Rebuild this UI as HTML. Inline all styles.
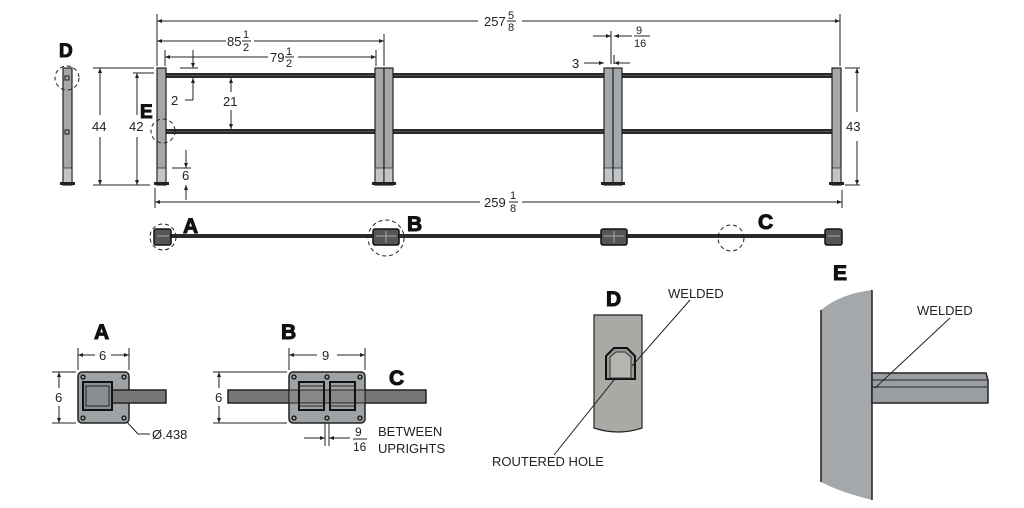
<!DOCTYPE html>
<html><head><meta charset="utf-8"><style>
html,body{margin:0;padding:0;background:#fff;width:1024px;height:508px;overflow:hidden}
svg{display:block}
text{font-family:"Liberation Sans",sans-serif;fill:#222}
.b{font-weight:bold;fill:#111;stroke:#111;stroke-width:1}
</style></head><body>
<svg width="1024" height="508" viewBox="0 0 1024 508" xmlns="http://www.w3.org/2000/svg">
<defs>
<marker id="ar" viewBox="0 0 10 10" refX="10" refY="5" markerWidth="7" markerHeight="5" orient="auto-start-reverse"><path d="M0,1 L10,5 L0,9 z" fill="#222"/></marker>
<g id="post">
<rect x="0" y="0" width="9" height="117" fill="#a4a8ab" stroke="#222" stroke-width="1.2"/>
<rect x="0.6" y="100" width="7.8" height="16" fill="#c2c5c7"/>
<line x1="0" y1="100" x2="9" y2="100" stroke="#333" stroke-width="0.8"/>
<rect x="-3" y="114" width="15" height="3" fill="#222"/>
</g>
</defs>
<g stroke="#222" stroke-width="1" fill="none">
<line x1="157" y1="14" x2="157" y2="66"/>
<line x1="840" y1="14" x2="840" y2="66"/>
<line x1="384" y1="34" x2="384" y2="66"/>
<line x1="165" y1="50" x2="165" y2="66"/>
<line x1="376" y1="50" x2="376" y2="66"/>
<line x1="155" y1="188" x2="155" y2="208"/>
<line x1="842" y1="190" x2="842" y2="208"/>
<line x1="157" y1="21" x2="478" y2="21" marker-start="url(#ar)"/>
<line x1="522" y1="21" x2="840" y2="21" marker-end="url(#ar)"/>
<line x1="157" y1="41" x2="226" y2="41" marker-start="url(#ar)"/>
<line x1="254" y1="41" x2="384" y2="41" marker-end="url(#ar)"/>
<line x1="165" y1="57" x2="268" y2="57" marker-start="url(#ar)"/>
<line x1="298" y1="57" x2="376" y2="57" marker-end="url(#ar)"/>
<line x1="155" y1="202" x2="480" y2="202" marker-start="url(#ar)"/>
<line x1="522" y1="202" x2="842" y2="202" marker-end="url(#ar)"/>
<line x1="180" y1="68" x2="198" y2="68"/>
<line x1="193" y1="50" x2="193" y2="68" marker-end="url(#ar)"/>
<line x1="193" y1="78" x2="193" y2="100" marker-start="url(#ar)"/>
<line x1="193" y1="100" x2="185" y2="100"/>
<line x1="231" y1="78" x2="231" y2="92" marker-start="url(#ar)"/>
<line x1="231" y1="110" x2="231" y2="129" marker-end="url(#ar)"/>
<line x1="172" y1="168" x2="191" y2="168"/>
<line x1="186" y1="150" x2="186" y2="168" marker-end="url(#ar)"/>
<line x1="186" y1="185" x2="186" y2="200" marker-start="url(#ar)"/>
<line x1="93" y1="68" x2="154" y2="68"/>
<line x1="93" y1="185" x2="150" y2="185"/>
<line x1="100" y1="68" x2="100" y2="115" marker-start="url(#ar)"/>
<line x1="100" y1="137" x2="100" y2="185" marker-end="url(#ar)"/>
<line x1="133" y1="73" x2="154" y2="73"/>
<line x1="137" y1="73" x2="137" y2="115" marker-start="url(#ar)"/>
<line x1="137" y1="137" x2="137" y2="185" marker-end="url(#ar)"/>
<line x1="845" y1="68" x2="860" y2="68"/>
<line x1="845" y1="185" x2="860" y2="185"/>
<line x1="857" y1="68" x2="857" y2="112" marker-start="url(#ar)"/>
<line x1="857" y1="141" x2="857" y2="185" marker-end="url(#ar)"/>
<line x1="611" y1="31" x2="611" y2="64"/>
<line x1="614" y1="55" x2="614" y2="64"/>
<line x1="593" y1="36" x2="611" y2="36" marker-end="url(#ar)"/>
<line x1="632" y1="36" x2="614" y2="36" marker-end="url(#ar)"/>
<line x1="584" y1="63" x2="604" y2="63" marker-end="url(#ar)"/>
<line x1="630" y1="63" x2="614" y2="63" marker-end="url(#ar)"/>
</g>
<g fill="#2a2a2a">
<rect x="166" y="73" width="209" height="5"/><rect x="166" y="129" width="209" height="5"/>
<rect x="393" y="73" width="211" height="5"/><rect x="393" y="129" width="211" height="5"/>
<rect x="622" y="73" width="210" height="5"/><rect x="622" y="129" width="210" height="5"/>
</g>
<g stroke="#777" stroke-width="0.6"><line x1="166" y1="75.5" x2="832" y2="75.5"/><line x1="166" y1="131.5" x2="832" y2="131.5"/></g>
<use href="#post" x="157" y="68"/>
<use href="#post" x="375" y="68"/><use href="#post" x="384" y="68"/>
<use href="#post" x="604" y="68"/><use href="#post" x="613" y="68"/>
<use href="#post" x="832" y="68"/>
<use href="#post" x="63" y="68"/>
<rect x="65" y="76" width="4" height="4" fill="none" stroke="#222"/>
<rect x="65" y="130" width="4" height="4" fill="none" stroke="#222"/>
<g fill="none" stroke="#222" stroke-dasharray="4,3"><circle cx="67" cy="78" r="12"/><circle cx="163" cy="131" r="12"/></g>
<text x="484" y="26" font-size="13">257</text><text x="508" y="19" font-size="11">5</text><line x1="507" y1="21" x2="516" y2="21" stroke="#222"/><text x="508" y="31" font-size="11">8</text>
<text x="227" y="46" font-size="13">85</text><text x="243" y="38" font-size="11">1</text><text x="243" y="51" font-size="11">2</text><line x1="242" y1="41" x2="251" y2="41" stroke="#222"/>
<text x="270" y="62" font-size="13">79</text><text x="286" y="55" font-size="11">1</text><text x="286" y="67" font-size="11">2</text><line x1="285" y1="57" x2="294" y2="57" stroke="#222"/>
<text x="484" y="207" font-size="13">259</text><text x="510" y="199" font-size="11">1</text><line x1="509" y1="202" x2="518" y2="202" stroke="#222"/><text x="510" y="212" font-size="11">8</text>
<text x="636" y="34" font-size="11">9</text><line x1="634" y1="36" x2="650" y2="36" stroke="#222"/><text x="634" y="47" font-size="11">16</text>
<text x="572" y="68" font-size="13">3</text>
<text x="171" y="105" font-size="13">2</text>
<text x="223" y="106" font-size="13">21</text>
<text x="182" y="180" font-size="13">6</text>
<text x="92" y="131" font-size="13">44</text>
<text x="129" y="131" font-size="13">42</text>
<text x="846" y="131" font-size="13">43</text>
<text x="59" y="57" font-size="19" class="b">D</text>
<text x="140" y="118" font-size="19" class="b">E</text>
<rect x="155" y="234" width="686" height="4" fill="#2a2a2a"/>
<g fill="#555" stroke="#111" stroke-width="1.5">
<rect x="154" y="229" width="17" height="16" rx="2"/>
<rect x="373" y="229" width="26" height="16" rx="2"/>
<rect x="601" y="229" width="26" height="16" rx="2"/>
<rect x="825" y="229" width="17" height="16" rx="2"/>
</g>
<g stroke="#aaa" stroke-width="1"><line x1="157" y1="236" x2="169" y2="236"/><line x1="376" y1="236" x2="396" y2="236"/><line x1="604" y1="236" x2="624" y2="236"/><line x1="828" y1="236" x2="840" y2="236"/><line x1="386" y1="231" x2="386" y2="243"/><line x1="614" y1="231" x2="614" y2="243"/></g>
<g fill="none" stroke="#222" stroke-dasharray="4,3"><circle cx="163" cy="237" r="13"/><circle cx="386" cy="238" r="18"/><circle cx="731" cy="238" r="13"/></g>
<text x="183" y="233" font-size="21" class="b">A</text>
<text x="407" y="231" font-size="21" class="b">B</text>
<text x="758" y="229" font-size="21" class="b">C</text>
<text x="94" y="339" font-size="21" class="b">A</text>
<text x="281" y="339" font-size="21" class="b">B</text>
<text x="389" y="385" font-size="21" class="b">C</text>
<g stroke="#222" fill="none">
<line x1="78" y1="348" x2="78" y2="370"/><line x1="129" y1="348" x2="129" y2="370"/>
<line x1="78" y1="355" x2="95" y2="355" marker-start="url(#ar)"/><line x1="111" y1="355" x2="129" y2="355" marker-end="url(#ar)"/>
<line x1="52" y1="372" x2="76" y2="372"/><line x1="52" y1="423" x2="76" y2="423"/>
<line x1="59" y1="372" x2="59" y2="388" marker-start="url(#ar)"/><line x1="59" y1="406" x2="59" y2="423" marker-end="url(#ar)"/>
<path d="M126,421 L138,434 L150,434"/>
<line x1="289" y1="348" x2="289" y2="370"/><line x1="365" y1="348" x2="365" y2="370"/>
<line x1="289" y1="355" x2="317" y2="355" marker-start="url(#ar)"/><line x1="337" y1="355" x2="365" y2="355" marker-end="url(#ar)"/>
<line x1="213" y1="372" x2="287" y2="372"/><line x1="213" y1="423" x2="287" y2="423"/>
<line x1="219" y1="372" x2="219" y2="388" marker-start="url(#ar)"/><line x1="219" y1="406" x2="219" y2="423" marker-end="url(#ar)"/>
<line x1="325" y1="418" x2="325" y2="446"/><line x1="329" y1="418" x2="329" y2="446"/>
<line x1="304" y1="438" x2="325" y2="438" marker-end="url(#ar)"/><line x1="350" y1="438" x2="329" y2="438" marker-end="url(#ar)"/>
</g>
<text x="99" y="360" font-size="13">6</text>
<text x="55" y="402" font-size="13">6</text>
<text x="152" y="439" font-size="13">Ø.438</text>
<text x="322" y="360" font-size="13">9</text>
<text x="215" y="402" font-size="13">6</text>
<text x="355" y="436" font-size="12">9</text><line x1="353" y1="439" x2="367" y2="439" stroke="#222"/><text x="353" y="451" font-size="12">16</text>
<text x="378" y="436" font-size="13">BETWEEN</text>
<text x="378" y="453" font-size="13">UPRIGHTS</text>
<rect x="78" y="372" width="51" height="51" rx="4" fill="#9ea2a5" stroke="#222" stroke-width="1.5"/>
<rect x="108" y="390" width="58" height="13" fill="#777" stroke="#222" stroke-width="1.5"/>
<rect x="83" y="382" width="29" height="28" fill="#8a8e91" stroke="#111" stroke-width="2"/>
<rect x="86" y="386" width="23" height="20" fill="none" stroke="#222"/>
<rect x="289" y="372" width="76" height="51" rx="4" fill="#9ea2a5" stroke="#222" stroke-width="1.5"/>
<rect x="228" y="390" width="61" height="13" fill="#777" stroke="#222" stroke-width="1.5"/>
<rect x="365" y="390" width="61" height="13" fill="#777" stroke="#222" stroke-width="1.5"/>
<rect x="289" y="390" width="76" height="13" fill="#888" stroke="#222" stroke-width="1"/>
<rect x="299" y="382" width="25" height="28" fill="none" stroke="#111" stroke-width="2"/>
<rect x="330" y="382" width="25" height="28" fill="none" stroke="#111" stroke-width="2"/>
<line x1="299" y1="386" x2="324" y2="386" stroke="#222"/><line x1="299" y1="406" x2="324" y2="406" stroke="#222"/>
<line x1="330" y1="386" x2="355" y2="386" stroke="#222"/><line x1="330" y1="406" x2="355" y2="406" stroke="#222"/>
<g fill="none" stroke="#111" stroke-width="1.3">
<circle cx="83" cy="377" r="2"/><circle cx="124" cy="377" r="2"/><circle cx="83" cy="418" r="2"/><circle cx="124" cy="418" r="2"/>
<circle cx="294" cy="377" r="2"/><circle cx="327" cy="377" r="2"/><circle cx="360" cy="377" r="2"/><circle cx="294" cy="418" r="2"/><circle cx="327" cy="418" r="2"/><circle cx="360" cy="418" r="2"/>
</g>
<text x="606" y="306" font-size="21" class="b">D</text>
<path d="M594,315 L642,315 L642,428 Q618,436 594,428 Z" fill="#aaa9a5" stroke="#222" stroke-width="1.2"/>
<path d="M606,379 L606,356 L614,348 L627,348 L635,356 L635,379 Z" fill="#999" stroke="#111" stroke-width="2"/>
<path d="M610,378 L610,357 L616,352 L625,352 L631,357 L631,378 Z" fill="#b5b4b0" stroke="#333"/>
<line x1="632" y1="366" x2="690" y2="300" stroke="#222"/>
<line x1="614" y1="380" x2="554" y2="455" stroke="#222"/>
<text x="668" y="298" font-size="13">WELDED</text>
<text x="492" y="466" font-size="13">ROUTERED HOLE</text>
<text x="833" y="280" font-size="21" class="b">E</text>
<path d="M821,310 Q840,294 872,290 L872,500 Q840,492 821,482 Z" fill="#a5a8ab"/>
<line x1="821" y1="310" x2="821" y2="482" stroke="#222" stroke-width="1.5"/>
<line x1="872" y1="290" x2="872" y2="500" stroke="#222" stroke-width="1.5"/>
<path d="M872,373 L986,373 L988,380 L988,403 L872,403 Z" fill="#9a9ea2" stroke="#222" stroke-width="1.5"/>
<line x1="872" y1="380" x2="987" y2="380" stroke="#222"/>
<line x1="872" y1="387" x2="987" y2="387" stroke="#222"/>
<line x1="875" y1="388" x2="950" y2="318" stroke="#222"/>
<text x="917" y="315" font-size="13">WELDED</text>
</svg>
</body></html>
